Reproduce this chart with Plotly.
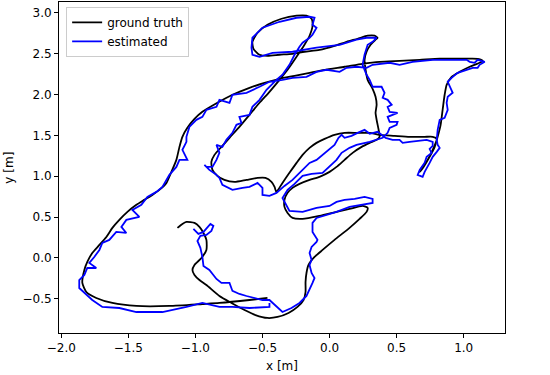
import plotly.graph_objects as go

# Ground-truth trajectory (metres)
gt_x = [-1.134, -1.097, -1.067, -1.007, -0.970, -0.940, -0.918, -0.918, -0.955, -1.007,
        -1.022, -1.007, -0.970, -0.918, -0.821, -0.731, -0.634, -0.552, -0.463, -0.388,
        -0.306, -0.239, -0.194, -0.179, -0.179, -0.172, -0.157, -0.112, -0.052, 0.037,
        0.149, 0.224, 0.276, 0.284, 0.246, 0.149, 0.052, -0.075, -0.201, -0.276,
        -0.313, -0.336, -0.336, -0.313, -0.276, -0.224, -0.149, -0.075, 0.000, 0.052,
        0.112, 0.172, 0.239, 0.299, 0.351, 0.373, 0.366, 0.351, 0.343, 0.351,
        0.343, 0.321, 0.284, 0.269, 0.261, 0.276, 0.306, 0.343, 0.358, 0.336,
        0.284, 0.209, 0.127, 0.037, -0.075, -0.187, -0.276, -0.373, -0.463, -0.522,
        -0.567, -0.575, -0.537, -0.463, -0.358, -0.246, -0.172, -0.134, -0.127, -0.149,
        -0.187, -0.246, -0.313, -0.373, -0.448, -0.522, -0.597, -0.672, -0.746, -0.806,
        -0.858, -0.881, -0.873, -0.836, -0.784, -0.709, -0.619, -0.537, -0.478, -0.433,
        -0.410, -0.396, -0.351, -0.299, -0.246, -0.201, -0.149, -0.097, -0.037, 0.037,
        0.112, 0.209, 0.299, 0.373, 0.485, 0.597, 0.709, 0.769, 0.799, 0.769,
        0.731, 0.687, 0.672, 0.701, 0.746, 0.784, 0.806, 0.828, 0.843, 0.858,
        0.873, 0.910, 0.970, 1.045, 1.119, 1.142, 1.104, 0.970, 0.821, 0.672,
        0.522, 0.373, 0.246, 0.112, -0.037, -0.149, -0.261, -0.373, -0.485, -0.597,
        -0.724, -0.836, -0.948, -1.007, -1.060, -1.097, -1.119, -1.142, -1.179, -1.216,
        -1.269, -1.321, -1.381, -1.440, -1.507, -1.567, -1.619, -1.664, -1.716, -1.769,
        -1.806, -1.828, -1.843, -1.813, -1.739, -1.619, -1.440, -1.194, -0.948, -0.821,
        -0.597, -0.463]
gt_y = [0.368, 0.417, 0.441, 0.429, 0.380, 0.306, 0.221, 0.098, 0.000, -0.086,
        -0.147, -0.208, -0.270, -0.331, -0.466, -0.551, -0.637, -0.699, -0.735, -0.723,
        -0.674, -0.600, -0.515, -0.417, -0.294, -0.184, -0.086, 0.012, 0.098, 0.221,
        0.368, 0.478, 0.564, 0.613, 0.637, 0.600, 0.564, 0.515, 0.478, 0.490,
        0.551, 0.625, 0.711, 0.797, 0.858, 0.907, 0.956, 0.993, 1.054, 1.115,
        1.201, 1.287, 1.360, 1.409, 1.446, 1.483, 1.569, 1.691, 1.777, 1.875,
        1.973, 2.071, 2.181, 2.304, 2.426, 2.525, 2.610, 2.672, 2.696, 2.721,
        2.721, 2.684, 2.647, 2.598, 2.549, 2.525, 2.500, 2.488, 2.475, 2.488,
        2.561, 2.647, 2.757, 2.855, 2.929, 2.966, 2.966, 2.929, 2.843, 2.721,
        2.610, 2.463, 2.304, 2.181, 2.034, 1.900, 1.752, 1.605, 1.471, 1.360,
        1.262, 1.176, 1.078, 1.005, 0.956, 0.931, 0.956, 0.980, 0.980, 0.931,
        0.870, 0.809, 0.919, 1.042, 1.164, 1.262, 1.348, 1.409, 1.458, 1.507,
        1.532, 1.532, 1.532, 1.507, 1.495, 1.483, 1.483, 1.483, 1.458, 1.324,
        1.201, 1.103, 1.054, 1.115, 1.238, 1.360, 1.483, 1.630, 1.814, 1.998,
        2.120, 2.218, 2.279, 2.341, 2.390, 2.414, 2.439, 2.439, 2.439, 2.426,
        2.414, 2.402, 2.377, 2.341, 2.304, 2.267, 2.230, 2.194, 2.145, 2.083,
        1.998, 1.900, 1.789, 1.703, 1.593, 1.483, 1.360, 1.201, 1.054, 0.919,
        0.833, 0.772, 0.711, 0.650, 0.564, 0.466, 0.368, 0.257, 0.159, 0.061,
        -0.049, -0.147, -0.306, -0.417, -0.490, -0.551, -0.588, -0.588, -0.564, -0.551,
        -0.515, -0.490]

# Estimated trajectory (metres)
est_x = [-1.015, -0.978, -0.940, -0.910, -0.888, -0.866, -0.881, -0.918, -0.963, -0.985,
         -0.963, -0.948, -0.940, -0.896, -0.866, -0.843, -0.806, -0.746, -0.724, -0.672,
         -0.619, -0.560, -0.500, -0.448, -0.418, -0.381, -0.351, -0.284, -0.224, -0.172,
         -0.149, -0.127, -0.112, -0.134, -0.149, -0.134, -0.149, -0.134, -0.097, -0.090,
         -0.127, -0.127, -0.097, -0.022, 0.052, 0.149, 0.246, 0.321, 0.321, 0.261,
         0.187, 0.112, 0.052, 0.000, -0.097, -0.201, -0.299, -0.321, -0.351, -0.313,
         -0.261, -0.201, -0.134, -0.052, 0.000, 0.052, 0.090, 0.149, 0.201, 0.299,
         0.396, 0.433, 0.448, 0.500, 0.507, 0.448, 0.433, 0.470, 0.507, 0.448,
         0.433, 0.463, 0.433, 0.396, 0.410, 0.388, 0.321, 0.299, 0.276, 0.246,
         0.261, 0.284, 0.321, 0.351, 0.276, 0.201, 0.075, -0.097, -0.276, -0.425,
         -0.522, -0.575, -0.582, -0.575, -0.500, -0.373, -0.246, -0.149, -0.112, -0.127,
         -0.097, -0.127, -0.149, -0.201, -0.224, -0.261, -0.299, -0.351, -0.396, -0.470,
         -0.522, -0.575, -0.597, -0.672, -0.657, -0.694, -0.724, -0.769, -0.799, -0.843,
         -0.821, -0.843, -0.873, -0.918, -0.933, -0.896, -0.851, -0.821, -0.799, -0.724,
         -0.649, -0.597, -0.537, -0.500, -0.500, -0.448, -0.396, -0.373, -0.336, -0.276,
         -0.224, -0.187, -0.149, -0.097, -0.052, 0.000, 0.037, 0.067, 0.090, 0.112,
         0.164, 0.209, 0.261, 0.299, 0.358, 0.418, 0.470, 0.522, 0.545, 0.597,
         0.672, 0.724, 0.769, 0.769, 0.746, 0.761, 0.724, 0.709, 0.672, 0.657,
         0.694, 0.709, 0.746, 0.769, 0.799, 0.821, 0.806, 0.799, 0.806, 0.821,
         0.858, 0.881, 0.873, 0.881, 0.918, 0.896, 0.881, 0.910, 0.955, 1.022,
         1.067, 1.104, 1.119, 1.157, 1.104, 1.082, 1.045, 1.022, 0.970, 0.858,
         0.769, 0.619, 0.522, 0.448, 0.321, 0.276, 0.201, 0.127, 0.075, -0.022,
         -0.097, -0.172, -0.276, -0.351, -0.448, -0.522, -0.619, -0.724, -0.746, -0.821,
         -0.843, -0.918, -0.948, -0.993, -1.045, -1.067, -1.067, -1.097, -1.060, -1.119,
         -1.142, -1.194, -1.246, -1.291, -1.358, -1.403, -1.470, -1.418, -1.515, -1.552,
         -1.515, -1.590, -1.642, -1.694, -1.716, -1.754, -1.791, -1.739, -1.806, -1.828,
         -1.866, -1.866, -1.828, -1.769, -1.694, -1.567, -1.440, -1.246, -1.067, -0.948,
         -0.821, -0.724, -0.597, -0.448, -0.448]
est_y = [0.355, 0.294, 0.319, 0.380, 0.417, 0.392, 0.331, 0.282, 0.270, 0.208,
         0.123, 0.012, -0.098, -0.147, -0.208, -0.257, -0.306, -0.306, -0.404, -0.441,
         -0.466, -0.490, -0.515, -0.515, -0.564, -0.613, -0.662, -0.613, -0.551, -0.466,
         -0.392, -0.306, -0.245, -0.184, -0.086, -0.025, 0.061, 0.135, 0.196, 0.221,
         0.319, 0.429, 0.490, 0.527, 0.564, 0.625, 0.650, 0.674, 0.723, 0.748,
         0.723, 0.711, 0.686, 0.637, 0.613, 0.564, 0.576, 0.650, 0.735, 0.833,
         0.907, 1.005, 1.029, 1.042, 1.127, 1.201, 1.287, 1.348, 1.385, 1.422,
         1.471, 1.532, 1.593, 1.630, 1.667, 1.667, 1.728, 1.752, 1.777, 1.789,
         1.850, 1.875, 1.936, 1.961, 2.022, 2.096, 2.096, 2.181, 2.243, 2.365,
         2.488, 2.610, 2.647, 2.696, 2.696, 2.672, 2.610, 2.574, 2.525, 2.512,
         2.463, 2.488, 2.574, 2.696, 2.819, 2.892, 2.941, 2.953, 2.941, 2.855,
         2.819, 2.733, 2.696, 2.635, 2.586, 2.488, 2.365, 2.243, 2.181, 2.059,
         1.936, 1.850, 1.752, 1.728, 1.654, 1.630, 1.532, 1.446, 1.360, 1.385,
         1.287, 1.201, 1.115, 1.115, 1.140, 1.078, 1.029, 0.980, 0.895, 0.833,
         0.858, 0.870, 0.919, 0.858, 0.772, 0.760, 0.797, 0.833, 0.882, 0.956,
         1.042, 1.103, 1.164, 1.201, 1.262, 1.324, 1.385, 1.471, 1.507, 1.471,
         1.495, 1.532, 1.569, 1.520, 1.544, 1.471, 1.446, 1.446, 1.409, 1.422,
         1.434, 1.446, 1.422, 1.373, 1.336, 1.287, 1.238, 1.164, 1.078, 1.017,
         0.993, 1.054, 1.164, 1.238, 1.299, 1.348, 1.385, 1.446, 1.569, 1.691,
         1.716, 1.814, 1.900, 1.973, 2.022, 2.096, 2.157, 2.206, 2.267, 2.304,
         2.328, 2.328, 2.365, 2.402, 2.426, 2.390, 2.402, 2.426, 2.426, 2.426,
         2.426, 2.402, 2.365, 2.390, 2.365, 2.328, 2.341, 2.328, 2.279, 2.304,
         2.279, 2.218, 2.206, 2.181, 2.157, 2.096, 2.022, 1.998, 1.900, 1.936,
         1.850, 1.814, 1.728, 1.691, 1.605, 1.483, 1.422, 1.324, 1.201, 1.201,
         1.115, 1.017, 0.870, 0.809, 0.748, 0.650, 0.588, 0.502, 0.466, 0.380,
         0.306, 0.319, 0.221, 0.184, 0.098, 0.012, -0.061, -0.123, -0.123, -0.208,
         -0.270, -0.368, -0.429, -0.515, -0.600, -0.613, -0.662, -0.662, -0.600, -0.551,
         -0.600, -0.600, -0.613, -0.600, -0.551]

x_ticks = [-2.0, -1.5, -1.0, -0.5, 0.0, 0.5, 1.0]
x_labels = ["\u22122.0", "\u22121.5", "\u22121.0", "\u22120.5", "0.0", "0.5", "1.0"]
y_ticks = [-0.5, 0.0, 0.5, 1.0, 1.5, 2.0, 2.5, 3.0]
y_labels = ["\u22120.5", "0.0", "0.5", "1.0", "1.5", "2.0", "2.5", "3.0"]

FONT = "DejaVu Sans"

fig = go.Figure()
fig.add_trace(go.Scatter(x=gt_x, y=gt_y, mode="lines", name="ground truth",
                         line=dict(color="black", width=1.8, shape="spline", smoothing=0.6)))
fig.add_trace(go.Scatter(x=est_x, y=est_y, mode="lines", name="estimated",
                         line=dict(color="blue", width=1.8)))

axis_common = dict(showgrid=False, zeroline=False, showline=True, linecolor="black",
                   linewidth=1, mirror=True, ticks="outside", ticklen=4, tickwidth=1,
                   tickcolor="black", automargin=False,
                   tickfont=dict(family=FONT, size=12, color="black"))

fig.update_layout(
    width=550, height=375,
    margin=dict(l=59, r=45, t=2, b=42),
    paper_bgcolor="white", plot_bgcolor="white",
    font=dict(family=FONT, size=12, color="black"),
    xaxis=dict(range=[-2.017, 1.308], tickvals=x_ticks, ticktext=x_labels, **axis_common),
    yaxis=dict(range=[-0.919, 3.134], tickvals=y_ticks, ticktext=y_labels, **axis_common),
    legend=dict(x=0.016, y=0.985, xanchor="left", yanchor="top",
                bgcolor="rgba(255,255,255,0.8)", bordercolor="#cccccc", borderwidth=1,
                font=dict(family=FONT, size=12), itemwidth=30, tracegroupgap=0),
    showlegend=True,
    annotations=[
        dict(text="x [m]", xref="paper", yref="paper", x=0.5, y=-0.10,
             xanchor="center", yanchor="middle", showarrow=False,
             font=dict(family=FONT, size=12, color="black")),
        dict(text="y [m]", xref="paper", yref="paper", x=-0.114, y=0.5,
             xanchor="center", yanchor="middle", showarrow=False, textangle=-90,
             font=dict(family=FONT, size=12, color="black")),
    ],
)

fig.write_html("out.html", config={"displayModeBar": False},
               post_script="document.body.style.margin='0px';")
